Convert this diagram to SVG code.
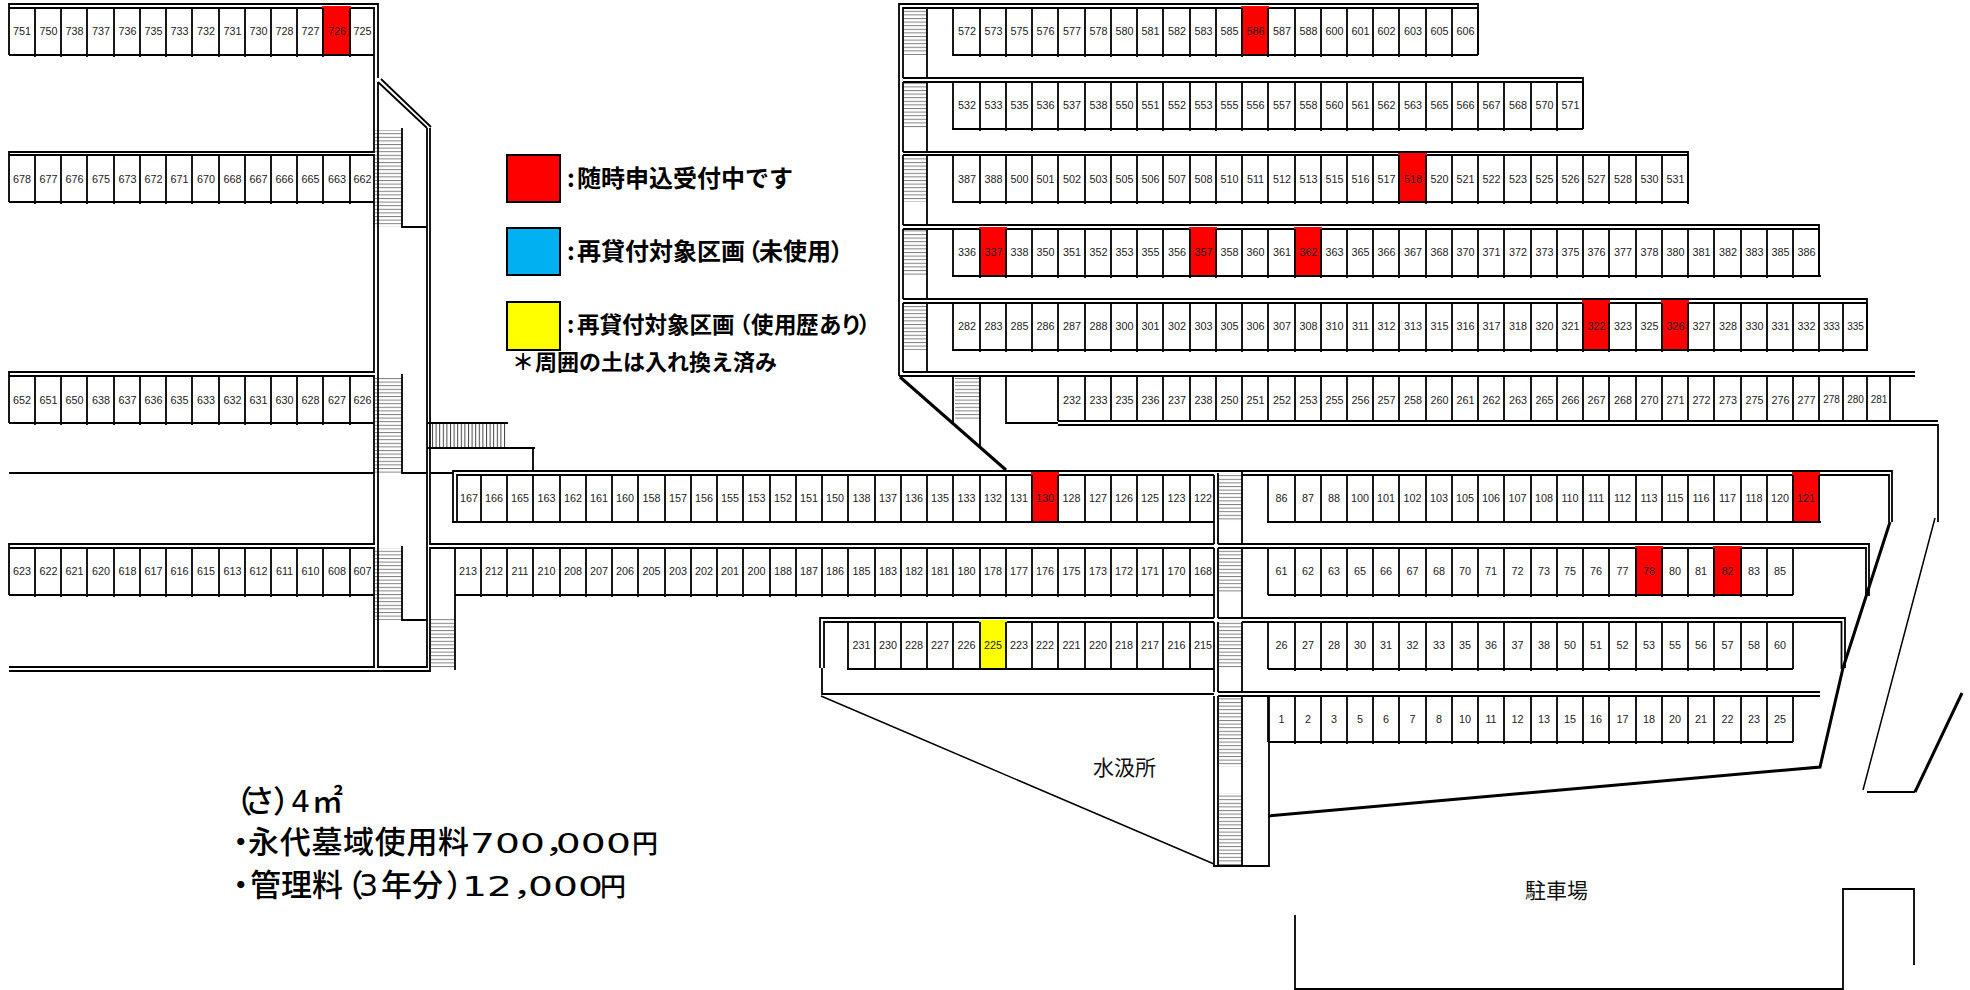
<svg xmlns="http://www.w3.org/2000/svg" width="1970" height="990" viewBox="0 0 1970 990">
<style>
.w{fill:none;stroke:#000;stroke-width:1.8}
.g{fill:none;stroke:#000;stroke-width:1.8}
.n{font-family:"Liberation Sans",Arial,sans-serif;font-size:10.8px;fill:#222;text-anchor:middle}
.s{font-size:10px}
.red{fill:#f00}
.yel{fill:#ff0}
.lg{font-family:"Noto Sans CJK JP",sans-serif;font-weight:700;font-size:24px;fill:#000}
.pr{font-family:"Noto Sans CJK JP",sans-serif;font-weight:500;font-size:31px;fill:#000}
.d{font-family:"DejaVu Sans","Noto Sans CJK JP",sans-serif;font-weight:400;font-size:30px}
.dw{font-family:"DejaVu Sans","Noto Sans CJK JP",sans-serif;font-weight:400;font-size:27px;fill:#000;font-feature-settings:"palt"}
.y{font-family:"Noto Sans CJK JP",sans-serif;font-weight:500;font-size:26px;fill:#000}
.p{font-feature-settings:"palt"}
.pl{font-family:"Noto Sans CJK JP",sans-serif;font-size:21px;fill:#111}
.box{stroke:#000;stroke-width:2}
</style>
<defs>
<pattern id="stH" width="4" height="3.6" patternUnits="userSpaceOnUse"><rect width="4" height="1" fill="#808080"/></pattern>
<pattern id="stV" width="3.6" height="4" patternUnits="userSpaceOnUse"><rect width="1" height="4" fill="#444"/></pattern>
<path id="gL" class="g" d="M35 0V49M61 0V49M87 0V49M114 0V49M140 0V49M166 0V49M192 0V49M219 0V49M245 0V49M271 0V49M297 0V49M323 0V49M350 0V49M9 47H374"/>
<path id="gR" class="g" d="M1268 0V47M1295 0V49M1321 0V49M1347 0V49M1373 0V49M1399 0V49M1426 0V49M1452 0V49M1478 0V49M1504 0V49M1531 0V49M1557 0V49M1583 0V49M1609 0V49M1636 0V49M1662 0V49M1688 0V49M1714 0V49M1741 0V49M1767 0V49M1793 0V47M1268 47H1793"/>
</defs>
<rect width="1970" height="990" fill="#fff"/>
<g id="stairs">
<rect x="375" y="130" width="27" height="97" fill="url(#stH)"/>
<rect x="375" y="376" width="27" height="97" fill="url(#stH)"/>
<rect x="375" y="548" width="27" height="72" fill="url(#stH)"/>
<rect x="431" y="619" width="23" height="49" fill="url(#stH)"/>
<rect x="431" y="424" width="76" height="23" fill="url(#stV)"/>
<rect x="904" y="8" width="23" height="47" fill="url(#stH)"/>
<rect x="904" y="83" width="23" height="46" fill="url(#stH)"/>
<rect x="904" y="155" width="23" height="47" fill="url(#stH)"/>
<rect x="904" y="229" width="23" height="46" fill="url(#stH)"/>
<rect x="904" y="302" width="23" height="48" fill="url(#stH)"/>
<rect x="955" y="376" width="25" height="45" fill="url(#stH)"/>
<rect x="1219" y="473" width="23" height="48" fill="url(#stH)"/>
<rect x="1219" y="549" width="23" height="45" fill="url(#stH)"/>
<rect x="1219" y="620" width="23" height="49" fill="url(#stH)"/>
<rect x="1219" y="695" width="23" height="72" fill="url(#stH)"/>
<rect x="1219" y="793" width="23" height="72" fill="url(#stH)"/>
</g>
<g id="walls">
<path class="w" d="M9 55V4H378V78M9 8H374V152H9V202M9 155H374V372H9V423M9 376H374V544H9V595M9 548H374V667H9M9 671H430V548H1214M378 82V667H427V128M381 79L431 127M378 82L427 128M430 128V544H1214M402 128V227H427M402 374V473H427M9 473H374M430 473H453M402 546V620H427M455 548V670M427 423H508M427 448H535M533 448V471"/>
<path class="w" d="M453 522V471H1892V522M457 522V475H1214M1242 475H1889V522M1214 475V544M1218 473V544M1242 471V544M1218 544H1869V596M1218 548H1866V596M1214 548V618M1218 548V618M1242 548V618M1214 618H820V668M1214 622H824V668M822 668V694H1214M1218 618H1845V668M1242 622H1841.500V669M1214 622V692M1218 622V692M1242 622V692M1218 692H1820M1218 696H1820M1214 696V866H1269V696M1218 696V866M1242 696V866"/>
<path class="w" d="M899 376V4H1478V55M903 78V8H1478M927 8V78M903 78H1583V129M903 82H1583M903 152V82M927 82V152M903 152H1688V203M903 155H1688M903 225V155M927 155V225M903 225H1819V276M903 229H1819M903 299V229M927 229V299M903 299H1867V350M903 303H1867M903 372V303M927 303V372M903 372H1915M899 376H1915M953 376V422M980 376V448M1006 376V423H1058M1058 425H1938V522M1938 421H1058"/>
<path fill="none" stroke="#000" stroke-width="3" d="M900 377L1006 470"/>
<path fill="none" stroke="#000" stroke-width="3" d="M1890 522L1843 668L1820 767L1268 816"/>
<path fill="none" stroke="#000" stroke-width="1.5" d="M821 696L1214 864M1935 518L1863 790"/>
<path fill="none" stroke="#000" stroke-width="2" d="M1867 792H1915"/>
<path fill="none" stroke="#000" stroke-width="3" d="M1915 792L1962 693"/>
<path class="w" d="M1295 915V989H1843V889H1914V965"/>
</g>
<g id="row-751">
<rect class="red" x="322" y="6" width="29" height="49"/>
<use href="#gL" transform="translate(0,8)"/>
<g class="n" transform="translate(0,35)"><text x="22">751</text><text x="48.500">750</text><text x="74.500">738</text><text x="101">737</text><text x="127.500">736</text><text x="153.500">735</text><text x="179.500">733</text><text x="206">732</text><text x="232.500">731</text><text x="258.500">730</text><text x="284.500">728</text><text x="310.500">727</text><text x="337">726</text><text x="362.500">725</text></g>
</g>
<g id="row-678">
<use href="#gL" transform="translate(0,155)"/>
<g class="n" transform="translate(0,183)"><text x="22">678</text><text x="48.500">677</text><text x="74.500">676</text><text x="101">675</text><text x="127.500">673</text><text x="153.500">672</text><text x="179.500">671</text><text x="206">670</text><text x="232.500">668</text><text x="258.500">667</text><text x="284.500">666</text><text x="310.500">665</text><text x="337">663</text><text x="362.500">662</text></g>
</g>
<g id="row-652">
<use href="#gL" transform="translate(0,376)"/>
<g class="n" transform="translate(0,404)"><text x="22">652</text><text x="48.500">651</text><text x="74.500">650</text><text x="101">638</text><text x="127.500">637</text><text x="153.500">636</text><text x="179.500">635</text><text x="206">633</text><text x="232.500">632</text><text x="258.500">631</text><text x="284.500">630</text><text x="310.500">628</text><text x="337">627</text><text x="362.500">626</text></g>
</g>
<g id="row-623">
<use href="#gL" transform="translate(0,548)"/>
<g class="n" transform="translate(0,575)"><text x="22">623</text><text x="48.500">622</text><text x="74.500">621</text><text x="101">620</text><text x="127.500">618</text><text x="153.500">617</text><text x="179.500">616</text><text x="206">615</text><text x="232.500">613</text><text x="258.500">612</text><text x="284.500">611</text><text x="310.500">610</text><text x="337">608</text><text x="362.500">607</text></g>
</g>
<g id="row-572">
<rect class="red" x="1241" y="6" width="28" height="49"/>
<path class="g" d="M953 8V55M980 8V57M1006 8V57M1032 8V57M1058 8V57M1085 8V57M1111 8V57M1137 8V57M1163 8V57M1190 8V57M1216 8V57M1242 8V57M1268 8V57M1295 8V57M1321 8V57M1347 8V57M1373 8V57M1399 8V57M1426 8V57M1452 8V57M1478 8V55M952 55H1478"/>
<g class="n" transform="translate(0.500,35)"><text x="966.500">572</text><text x="993">573</text><text x="1019">575</text><text x="1045">576</text><text x="1071.500">577</text><text x="1098">578</text><text x="1124">580</text><text x="1150">581</text><text x="1176.500">582</text><text x="1203">583</text><text x="1229">585</text><text x="1255">586</text><text x="1281.500">587</text><text x="1308">588</text><text x="1334">600</text><text x="1360">601</text><text x="1386">602</text><text x="1412.500">603</text><text x="1439">605</text><text x="1465">606</text></g>
</g>
<g id="row-532">
<path class="g" d="M953 82V129M980 82V131M1006 82V131M1032 82V131M1058 82V131M1085 82V131M1111 82V131M1137 82V131M1163 82V131M1190 82V131M1216 82V131M1242 82V131M1268 82V131M1295 82V131M1321 82V131M1347 82V131M1373 82V131M1399 82V131M1426 82V131M1452 82V131M1478 82V131M1504 82V131M1531 82V131M1557 82V131M1583 82V129M952 129H1583"/>
<g class="n" transform="translate(0.500,109)"><text x="966.500">532</text><text x="993">533</text><text x="1019">535</text><text x="1045">536</text><text x="1071.500">537</text><text x="1098">538</text><text x="1124">550</text><text x="1150">551</text><text x="1176.500">552</text><text x="1203">553</text><text x="1229">555</text><text x="1255">556</text><text x="1281.500">557</text><text x="1308">558</text><text x="1334">560</text><text x="1360">561</text><text x="1386">562</text><text x="1412.500">563</text><text x="1439">565</text><text x="1465">566</text><text x="1491">567</text><text x="1517.500">568</text><text x="1544">570</text><text x="1570">571</text></g>
</g>
<g id="row-387">
<rect class="red" x="1398" y="153" width="29" height="49"/>
<path class="g" d="M953 155V202M980 155V204M1006 155V204M1032 155V204M1058 155V204M1085 155V204M1111 155V204M1137 155V204M1163 155V204M1190 155V204M1216 155V204M1242 155V204M1268 155V204M1295 155V204M1321 155V204M1347 155V204M1373 155V204M1399 155V204M1426 155V204M1452 155V204M1478 155V204M1504 155V204M1531 155V204M1557 155V204M1583 155V204M1609 155V204M1636 155V204M1662 155V204M1688 155V204M952 202H1688"/>
<g class="n" transform="translate(0.500,183)"><text x="966.500">387</text><text x="993">388</text><text x="1019">500</text><text x="1045">501</text><text x="1071.500">502</text><text x="1098">503</text><text x="1124">505</text><text x="1150">506</text><text x="1176.500">507</text><text x="1203">508</text><text x="1229">510</text><text x="1255">511</text><text x="1281.500">512</text><text x="1308">513</text><text x="1334">515</text><text x="1360">516</text><text x="1386">517</text><text x="1412.500">518</text><text x="1439">520</text><text x="1465">521</text><text x="1491">522</text><text x="1517.500">523</text><text x="1544">525</text><text x="1570">526</text><text x="1596">527</text><text x="1622.500">528</text><text x="1649">530</text><text x="1675">531</text></g>
</g>
<g id="row-336">
<rect class="red" x="979" y="227" width="28" height="49"/>
<rect class="red" x="1189" y="227" width="28" height="49"/>
<rect class="red" x="1294" y="227" width="28" height="49"/>
<path class="g" d="M953 229V276M980 229V278M1006 229V278M1032 229V278M1058 229V278M1085 229V278M1111 229V278M1137 229V278M1163 229V278M1190 229V278M1216 229V278M1242 229V278M1268 229V278M1295 229V278M1321 229V278M1347 229V278M1373 229V278M1399 229V278M1426 229V278M1452 229V278M1478 229V278M1504 229V278M1531 229V278M1557 229V278M1583 229V278M1609 229V278M1636 229V278M1662 229V278M1688 229V278M1714 229V278M1741 229V278M1767 229V278M1793 229V278M1819 229V276M952 276H1821"/>
<g class="n" transform="translate(0.500,256)"><text x="966.500">336</text><text x="993">337</text><text x="1019">338</text><text x="1045">350</text><text x="1071.500">351</text><text x="1098">352</text><text x="1124">353</text><text x="1150">355</text><text x="1176.500">356</text><text x="1203">357</text><text x="1229">358</text><text x="1255">360</text><text x="1281.500">361</text><text x="1308">362</text><text x="1334">363</text><text x="1360">365</text><text x="1386">366</text><text x="1412.500">367</text><text x="1439">368</text><text x="1465">370</text><text x="1491">371</text><text x="1517.500">372</text><text x="1544">373</text><text x="1570">375</text><text x="1596">376</text><text x="1622.500">377</text><text x="1649">378</text><text x="1675">380</text><text x="1701">381</text><text x="1727.500">382</text><text x="1754">383</text><text x="1780">385</text><text x="1806">386</text></g>
</g>
<g id="row-282">
<rect class="red" x="1582" y="300" width="28" height="50"/>
<rect class="red" x="1661" y="300" width="28" height="50"/>
<path class="g" d="M953 303V350M980 303V352M1006 303V352M1032 303V352M1058 303V352M1085 303V352M1111 303V352M1137 303V352M1163 303V352M1190 303V352M1216 303V352M1242 303V352M1268 303V352M1295 303V352M1321 303V352M1347 303V352M1373 303V352M1399 303V352M1426 303V352M1452 303V352M1478 303V352M1504 303V352M1531 303V352M1557 303V352M1583 303V352M1609 303V352M1636 303V352M1662 303V352M1688 303V352M1714 303V352M1741 303V352M1767 303V352M1793 303V352M1819 303V352M1843 303V352M1867 303V350M952 350H1868"/>
<g class="n" transform="translate(0.500,330)"><text x="966.500">282</text><text x="993">283</text><text x="1019">285</text><text x="1045">286</text><text x="1071.500">287</text><text x="1098">288</text><text x="1124">300</text><text x="1150">301</text><text x="1176.500">302</text><text x="1203">303</text><text x="1229">305</text><text x="1255">306</text><text x="1281.500">307</text><text x="1308">308</text><text x="1334">310</text><text x="1360">311</text><text x="1386">312</text><text x="1412.500">313</text><text x="1439">315</text><text x="1465">316</text><text x="1491">317</text><text x="1517.500">318</text><text x="1544">320</text><text x="1570">321</text><text x="1596">322</text><text x="1622.500">323</text><text x="1649">325</text><text x="1675">326</text><text x="1701">327</text><text x="1727.500">328</text><text x="1754">330</text><text x="1780">331</text><text x="1806">332</text><text class="s" x="1831">333</text><text class="s" x="1855">335</text></g>
</g>
<g id="row-232">
<path class="g" d="M1058 376V421M1085 376V421M1111 376V421M1137 376V421M1163 376V421M1190 376V421M1216 376V421M1242 376V421M1268 376V421M1295 376V421M1321 376V421M1347 376V421M1373 376V421M1399 376V421M1426 376V421M1452 376V421M1478 376V421M1504 376V421M1531 376V421M1557 376V421M1583 376V421M1609 376V421M1636 376V421M1662 376V421M1688 376V421M1714 376V421M1741 376V421M1767 376V421M1793 376V421M1819 376V421M1843 376V421M1867 376V421M1890 376V421"/>
<g class="n" transform="translate(0.500,404)"><text x="1071.500">232</text><text x="1098">233</text><text x="1124">235</text><text x="1150">236</text><text x="1176.500">237</text><text x="1203">238</text><text x="1229">250</text><text x="1255">251</text><text x="1281.500">252</text><text x="1308">253</text><text x="1334">255</text><text x="1360">256</text><text x="1386">257</text><text x="1412.500">258</text><text x="1439">260</text><text x="1465">261</text><text x="1491">262</text><text x="1517.500">263</text><text x="1544">265</text><text x="1570">266</text><text x="1596">267</text><text x="1622.500">268</text><text x="1649">270</text><text x="1675">271</text><text x="1701">272</text><text x="1727.500">273</text><text x="1754">275</text><text x="1780">276</text><text x="1806">277</text><text class="s" y="-1" x="1831">278</text><text class="s" y="-1" x="1855">280</text><text class="s" y="-1" x="1878.500">281</text></g>
</g>
<g id="row-167">
<rect class="red" x="1031" y="472" width="28" height="50"/>
<path class="g" d="M481 475V522M507 475V522M533 475V522M560 475V522M586 475V522M612 475V522M638 475V522M665 475V522M691 475V522M717 475V522M743 475V522M770 475V522M796 475V522M822 475V522M848 475V522M875 475V522M901 475V522M927 475V522M953 475V522M980 475V522M1006 475V522M1032 475V522M1058 475V522M1085 475V522M1111 475V522M1137 475V522M1163 475V522M1190 475V522M452 522H1214"/>
<g class="n" transform="translate(0,502)"><text x="469">167</text><text x="494">166</text><text x="520">165</text><text x="546.500">163</text><text x="573">162</text><text x="599">161</text><text x="625">160</text><text x="651.500">158</text><text x="678">157</text><text x="704">156</text><text x="730">155</text><text x="756.500">153</text><text x="783">152</text><text x="809">151</text><text x="835">150</text><text x="861.500">138</text><text x="888">137</text><text x="914">136</text><text x="940">135</text><text x="966.500">133</text><text x="993">132</text><text x="1019">131</text><text x="1045">130</text><text x="1071.500">128</text><text x="1098">127</text><text x="1124">126</text><text x="1150">125</text><text x="1176.500">123</text><text x="1203">122</text></g>
</g>
<g id="row-213">
<path class="g" d="M481 548V597M507 548V597M533 548V597M560 548V597M586 548V597M612 548V597M638 548V597M665 548V597M691 548V597M717 548V597M743 548V597M770 548V597M796 548V597M822 548V597M848 548V597M875 548V597M901 548V597M927 548V597M953 548V597M980 548V597M1006 548V597M1032 548V597M1058 548V597M1085 548V597M1111 548V597M1137 548V597M1163 548V597M1190 548V597M455 595H1214"/>
<g class="n" transform="translate(0,575)"><text x="468">213</text><text x="494">212</text><text x="520">211</text><text x="546.500">210</text><text x="573">208</text><text x="599">207</text><text x="625">206</text><text x="651.500">205</text><text x="678">203</text><text x="704">202</text><text x="730">201</text><text x="756.500">200</text><text x="783">188</text><text x="809">187</text><text x="835">186</text><text x="861.500">185</text><text x="888">183</text><text x="914">182</text><text x="940">181</text><text x="966.500">180</text><text x="993">178</text><text x="1019">177</text><text x="1045">176</text><text x="1071.500">175</text><text x="1098">173</text><text x="1124">172</text><text x="1150">171</text><text x="1176.500">170</text><text x="1203">168</text></g>
</g>
<g id="row-231">
<rect class="yel" x="979" y="620" width="28" height="49"/>
<path class="g" d="M848 622V669M875 622V669M901 622V669M927 622V669M953 622V669M980 622V669M1006 622V669M1032 622V669M1058 622V669M1085 622V669M1111 622V669M1137 622V669M1163 622V669M1190 622V669M847 669H1214"/>
<g class="n" transform="translate(0,649)"><text x="861.500">231</text><text x="888">230</text><text x="914">228</text><text x="940">227</text><text x="966.500">226</text><text x="993">225</text><text x="1019">223</text><text x="1045">222</text><text x="1071.500">221</text><text x="1098">220</text><text x="1124">218</text><text x="1150">217</text><text x="1176.500">216</text><text x="1203">215</text></g>
</g>
<g id="row-86">
<rect class="red" x="1792" y="472" width="28" height="50"/>
<path class="g" d="M1268 475V522M1295 475V522M1321 475V522M1347 475V522M1373 475V522M1399 475V522M1426 475V522M1452 475V522M1478 475V522M1504 475V522M1531 475V522M1557 475V522M1583 475V522M1609 475V522M1636 475V522M1662 475V522M1688 475V522M1714 475V522M1741 475V522M1767 475V522M1793 475V522M1819 475V522M1267 522H1821"/>
<g class="n" transform="translate(0,502)"><text x="1281.500">86</text><text x="1308">87</text><text x="1334">88</text><text x="1360">100</text><text x="1386">101</text><text x="1412.500">102</text><text x="1439">103</text><text x="1465">105</text><text x="1491">106</text><text x="1517.500">107</text><text x="1544">108</text><text x="1570">110</text><text x="1596">111</text><text x="1622.500">112</text><text x="1649">113</text><text x="1675">115</text><text x="1701">116</text><text x="1727.500">117</text><text x="1754">118</text><text x="1780">120</text><text x="1806">121</text></g>
</g>
<g id="row-61">
<rect class="red" x="1635" y="546" width="28" height="49"/>
<rect class="red" x="1713" y="546" width="29" height="49"/>
<use href="#gR" transform="translate(0,548)"/>
<g class="n" transform="translate(0,575)"><text x="1281.500">61</text><text x="1308">62</text><text x="1334">63</text><text x="1360">65</text><text x="1386">66</text><text x="1412.500">67</text><text x="1439">68</text><text x="1465">70</text><text x="1491">71</text><text x="1517.500">72</text><text x="1544">73</text><text x="1570">75</text><text x="1596">76</text><text x="1622.500">77</text><text x="1649">78</text><text x="1675">80</text><text x="1701">81</text><text x="1727.500">82</text><text x="1754">83</text><text x="1780">85</text></g>
</g>
<g id="row-26">
<use href="#gR" transform="translate(0,622)"/>
<g class="n" transform="translate(0,649)"><text x="1281.500">26</text><text x="1308">27</text><text x="1334">28</text><text x="1360">30</text><text x="1386">31</text><text x="1412.500">32</text><text x="1439">33</text><text x="1465">35</text><text x="1491">36</text><text x="1517.500">37</text><text x="1544">38</text><text x="1570">50</text><text x="1596">51</text><text x="1622.500">52</text><text x="1649">53</text><text x="1675">55</text><text x="1701">56</text><text x="1727.500">57</text><text x="1754">58</text><text x="1780">60</text></g>
</g>
<g id="row-1">
<use href="#gR" transform="translate(0,695)"/>
<g class="n" transform="translate(0,723)"><text x="1281.500">1</text><text x="1308">2</text><text x="1334">3</text><text x="1360">5</text><text x="1386">6</text><text x="1412.500">7</text><text x="1439">8</text><text x="1465">10</text><text x="1491">11</text><text x="1517.500">12</text><text x="1544">13</text><text x="1570">15</text><text x="1596">16</text><text x="1622.500">17</text><text x="1649">18</text><text x="1675">20</text><text x="1701">21</text><text x="1727.500">22</text><text x="1754">23</text><text x="1780">25</text></g>
</g>
<g id="legend">
<rect class="box red" x="507" y="155" width="53" height="47"/>
<rect class="box" fill="#00b0f0" x="507" y="228" width="53" height="47"/>
<rect class="box yel" x="507" y="302" width="53" height="48"/>
<text class="lg" x="567 577 601 625 649 673 697 721 745 769" y="187">:随時申込受付中です</text>
<text class="lg" y="260"><tspan x="567 577 601 625 649 673 697 721">:再貸付対象区画</tspan><tspan class="p" x="748">（</tspan><tspan x="759 783 807">未使用</tspan><tspan class="p" x="831">）</tspan></text>
<text class="lg" style="font-size:22.5px" y="333"><tspan x="567 577 599.500 622 644.500 667 689.500 712">:再貸付対象区画</tspan><tspan class="p" x="739">（</tspan><tspan x="751 774 796 819 840">使用歴あり</tspan><tspan class="p" x="859">）</tspan></text>
<text class="lg" style="font-size:22px" x="512 535 557 579 601 623 645 667 689 711 733 755" y="370">＊周囲の土は入れ換え済み</text>
</g>
<g id="labels">
<text class="pl" x="1093" y="775">水汲所</text>
<text class="pl" x="1525" y="898">駐車場</text>
<text class="pr" y="812"><tspan class="p" x="236">（</tspan><tspan x="244">さ</tspan><tspan class="p" x="274">）</tspan><tspan class="d" x="291">4</tspan><tspan x="312">㎡</tspan></text>
<text class="pr" y="853"><tspan class="p" x="233">・</tspan><tspan x="248 279.700 311.400 343 374.800 406.500 438">永代墓域使用料</tspan></text>
<text class="dw" transform="translate(470,853) scale(1.455,1)" x="0 17.200 34.400 53 59 76.200 93.400">700，000</text>
<text class="y" x="632" y="853">円</text>
<text class="pr" y="896"><tspan class="p" x="233">・</tspan><tspan x="250 281 312">管理料</tspan><tspan class="p" x="347">（</tspan><tspan class="d" x="359">3</tspan><tspan x="381 412">年分</tspan><tspan class="p" x="447">）</tspan></text>
<text class="dw" transform="translate(462,896) scale(1.455,1)" x="0 17.200 36.400 45.400 62.600 79.800">12，000</text>
<text class="y" x="600" y="896">円</text>
</g>
</svg>
